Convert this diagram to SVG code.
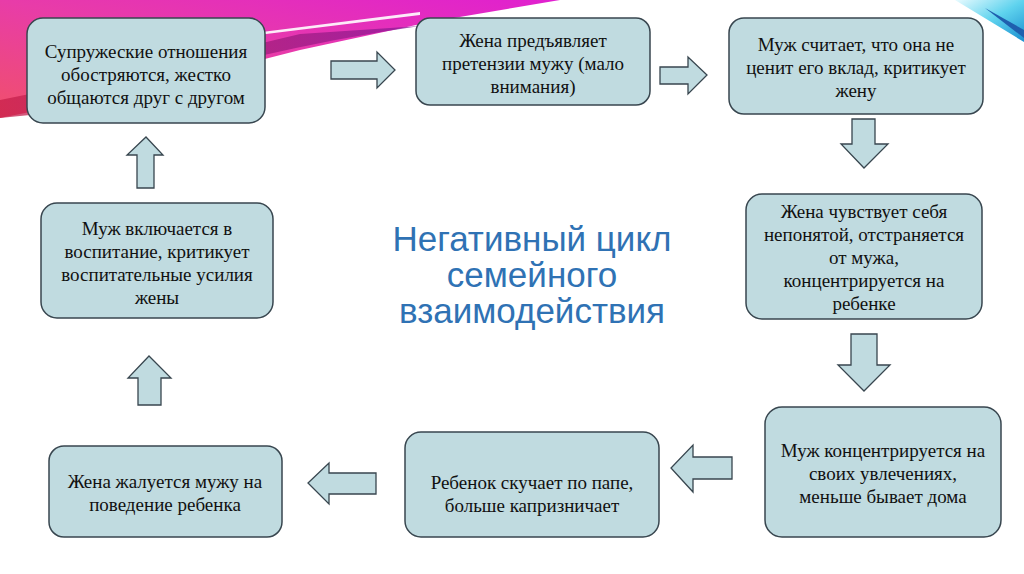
<svg xmlns="http://www.w3.org/2000/svg" width="1024" height="574" viewBox="0 0 1024 574">
<defs>
<linearGradient id="pink" x1="0" y1="1" x2="1" y2="0">
<stop offset="0" stop-color="#f0506a"/>
<stop offset="0.5" stop-color="#e83ca8"/>
<stop offset="1" stop-color="#e020d0"/>
</linearGradient>
<linearGradient id="deep" x1="0" y1="0" x2="1" y2="0">
<stop offset="0" stop-color="#c8204a"/>
<stop offset="1" stop-color="#8a1a9a"/>
</linearGradient>
<linearGradient id="blue" x1="0" y1="0" x2="1" y2="1">
<stop offset="0" stop-color="#e8fbff"/>
<stop offset="0.5" stop-color="#5fd3ee"/>
<stop offset="1" stop-color="#1a8fd0"/>
</linearGradient>
<style>
.box{fill:#c0dbe0;stroke:#38464f;stroke-width:1.5}
.arr{fill:#c0dbe0;stroke:#38464f;stroke-width:1.3;stroke-linejoin:miter}
.t{font-family:'Times New Roman','Liberation Serif',serif;font-size:19px;fill:#111;text-anchor:middle}
.title{font-family:'Liberation Sans',Arial,sans-serif;font-size:35px;fill:#2f72b4;text-anchor:middle}
</style>
</defs>
<rect width="1024" height="574" fill="#ffffff"/>
<g id="decor">
<polygon points="0,0 560,0 430,22 300,50 150,88 0,118" fill="url(#pink)"/>
<path d="M60,112 Q250,50 420,26 L300,34 Q150,70 0,100 L0,118 Z" fill="url(#deep)" opacity="0.75"/>
<path d="M230,36 L420,12 L420,15 L250,36 Z" fill="#ffffff" opacity="0.9"/>
<polygon points="955,0 1024,0 1024,42" fill="url(#blue)"/>
<path d="M985,8 L1024,30 L1024,38 Z" fill="#1f5fae"/>
</g>
<g id="connectors">
<polygon class="arr" points="331,61 377,61 377,52 395,70 377,88 377,79 331,79"/>
<polygon class="arr" points="660,67 688,67 688,57 707,75 688,94 688,84 660,84"/>
<polygon class="arr" points="852,119 875,119 875,144 888,144 864,168 841,144 852,144"/>
<polygon class="arr" points="851,334 877,334 877,365 890,365 864,391 838,365 851,365"/>
<polygon class="arr" points="732,457 693,457 693,445 671,468 693,492 693,479 732,479"/>
<polygon class="arr" points="376,473 329,473 329,463 308,483 329,504 329,494 376,494"/>
<polygon class="arr" points="137,188 137,155 127,155 146,137 163,155 154,155 154,188"/>
<polygon class="arr" points="138,405 138,378 128,378 149,356 171,378 161,378 161,405"/>
</g>
<g id="n1"><rect class="box" x="27" y="18" width="238" height="105" rx="16"/>
<text class="t" x="146" y="58">Супружеские отношения</text>
<text class="t" x="146" y="81">обостряются, жестко</text>
<text class="t" x="146" y="104">общаются друг с другом</text></g>
<g id="n2"><rect class="box" x="416" y="18" width="234" height="87" rx="14"/>
<text class="t" x="533" y="47">Жена предъявляет</text>
<text class="t" x="533" y="70">претензии мужу (мало</text>
<text class="t" x="533" y="93">внимания)</text></g>
<g id="n3"><rect class="box" x="729" y="18" width="254" height="96" rx="15"/>
<text class="t" x="856" y="51">Муж считает, что она не</text>
<text class="t" x="856" y="74">ценит его вклад, критикует</text>
<text class="t" x="856" y="97">жену</text></g>
<g id="n4"><rect class="box" x="746" y="194" width="236" height="125" rx="16"/>
<text class="t" x="864" y="218">Жена чувствует себя</text>
<text class="t" x="864" y="241">непонятой, отстраняется</text>
<text class="t" x="864" y="264">от мужа,</text>
<text class="t" x="864" y="287">концентрируется на</text>
<text class="t" x="864" y="310">ребенке</text></g>
<g id="n5"><rect class="box" x="765" y="407" width="236" height="130" rx="17"/>
<text class="t" x="883" y="457">Муж концентрируется на</text>
<text class="t" x="883" y="480">своих увлечениях,</text>
<text class="t" x="883" y="503">меньше бывает дома</text></g>
<g id="n6"><rect class="box" x="405" y="432" width="254" height="105" rx="16"/>
<text class="t" x="532" y="489">Ребенок скучает по папе,</text>
<text class="t" x="532" y="512">больше капризничает</text></g>
<g id="n7"><rect class="box" x="49" y="446" width="233" height="91" rx="15"/>
<text class="t" x="165" y="488">Жена жалуется мужу на</text>
<text class="t" x="165" y="511">поведение ребенка</text></g>
<g id="n8"><rect class="box" x="41" y="203" width="232" height="115" rx="16"/>
<text class="t" x="157" y="235">Муж включается в</text>
<text class="t" x="157" y="258">воспитание, критикует</text>
<text class="t" x="157" y="281">воспитательные усилия</text>
<text class="t" x="157" y="304">жены</text></g>
<g id="title">
<text class="title" x="532" y="251">Негативный цикл</text>
<text class="title" x="532" y="287">семейного</text>
<text class="title" x="532" y="323">взаимодействия</text>
</g>
</svg>
